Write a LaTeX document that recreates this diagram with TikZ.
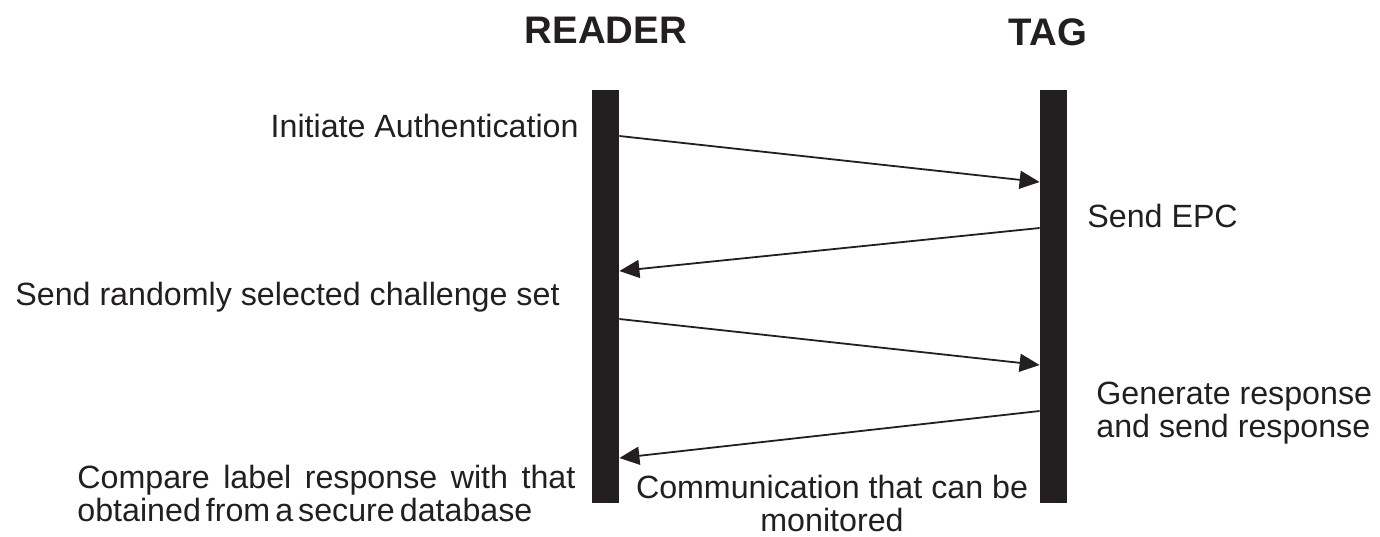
\documentclass[tikz,border=0pt]{standalone}
\usepackage{fontspec}
\setmainfont{Liberation Sans}
\usetikzlibrary{arrows.meta}
\usetikzlibrary{positioning}

\definecolor{ink}{RGB}{35,31,32}

\tikzset{
  lifeline/.style={draw=none, fill=ink, minimum width=13.5pt, minimum height=206.5pt, inner sep=0pt},
  actor/.style={font=\fontsize{19.2}{22}\selectfont\bfseries, text=ink, inner sep=0pt},
  msg/.style={-{Triangle[length=10pt,width=9pt]}, line width=0.9pt, draw=ink},
  note/.style={font=\fontsize{16.1}{16.5}\selectfont, text=ink, inner sep=0pt, align=left},
}

\begin{document}
\begin{tikzpicture}[x=0.5pt,y=-0.5pt]
  \useasboundingbox (0,0) rectangle (1380,536);

  % the two lifelines
  \node[lifeline] (reader) at (605.5,296.5) {};
  \node[lifeline] (tag)    at (1053.5,296.5) {};

  \node[actor, anchor=base] (readername) at (606,43) {READER};
  \node[actor, anchor=base] (tagname)    at (1048,45) {TAG};

  % where the messages leave and reach the bars
  \coordinate (r1) at (reader.east |- 0,136);
  \coordinate (t1) at (tag.west |- 0,182);
  \coordinate (t2) at (tag.west |- 0,228);
  \coordinate (r2) at (reader.east |- 0,271);
  \coordinate (r3) at (reader.east |- 0,319);
  \coordinate (t3) at (tag.west |- 0,365);
  \coordinate (t4) at (tag.west |- 0,411);
  \coordinate (r4) at (reader.east |- 0,458);

  \draw[msg] (r1) -- (t1);
  \draw[msg] (t2) -- (r2);
  \draw[msg] (r3) -- (t3);
  \draw[msg] (t4) -- (r4);

  % step labels
  \node[note, anchor=base east] (initiate)  at (579,137) {Initiate Authentication};
  \node[note, anchor=base west] (sendepc)   at (1087,227) {Send EPC};
  \node[note, anchor=base west] (challenge) at (15,305) {Send randomly selected challenge set};
  \node[note, anchor=north west] (generate) at (1096,382) {Generate response\\and send response};
  \node[note, anchor=north west] (compare)  at (77,465)
    {\makebox[249pt][s]{Compare label response with that}\\{\spaceskip=2.5pt\relax obtained from a secure database}};
  \node[note, align=center, anchor=north] (monitored) at (832,475)
    {Communication that can be\\monitored};
\end{tikzpicture}
\end{document}
